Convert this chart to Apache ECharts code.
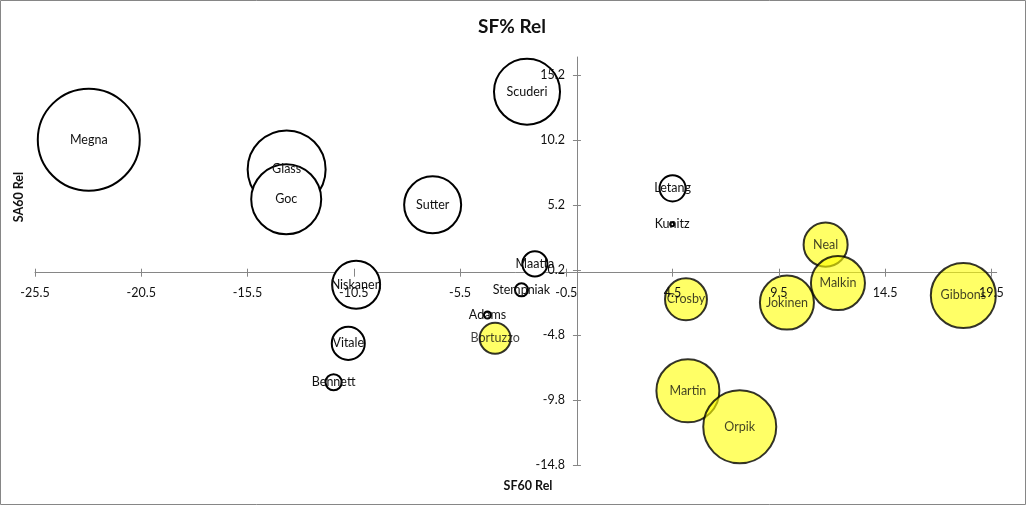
<!DOCTYPE html>
<html>
<head>
<meta charset="utf-8">
<script src="https://cdn.jsdelivr.net/npm/echarts@6/dist/echarts.min.js"></script>
<style>
html,body{margin:0;padding:0;background:#fff;}
#chart{width:1026px;height:505px;}
</style>
</head>
<body>
<div id="chart"></div>
<script>
// ---- data ----
const whitePlayers = ['Megna','Glass','Goc','Sutter','Scuderi','Niskanen','Vitale','Bennett','Adams','Stempniak','Maatta','Letang','Kunitz'];
const whiteSF60Rel = [-22.97,-13.66,-13.68,-6.79,-2.35,-10.39,-10.76,-11.45,-4.21,-2.61,-1.98,4.50,4.48];
const whiteSA60Rel = [10.24,7.95,5.65,5.22,13.93,-0.93,-5.44,-8.43,-3.26,-1.32,0.68,6.49,3.72];
const whiteBubble  = [104,60.8,49,32.5,43.6,23,10.9,2.6,0.5,1.7,6.3,6.8,0.16];

const yellowPlayers = ['Bortuzzo','Crosby','Martin','Orpik','Jokinen','Neal','Malkin','Gibbons'];
const yellowSF60Rel = [-3.85,5.13,5.22,7.66,9.88,11.70,12.28,18.18];
const yellowSA60Rel = [-5.05,-2.05,-9.09,-11.86,-2.30,2.16,-0.80,-1.75];
const yellowBubble  = [9.6,17.6,39.7,53.3,29.2,19.4,29.2,42.3];

const xTicks = [-25.5,-20.5,-15.5,-10.5,-5.5,-0.5,4.5,9.5,14.5,19.5];
const yTicks = [-14.8,-9.8,-4.8,0.2,5.2,10.2,15.2];

// ---- build ----
const FONT = 'Lato';
const X_MIN = -25.5, X_MAX = 19.75, Y_MIN = -14.8, Y_MAX = 16.6;
function rows(names, xs, ys, vs){
  return names.map((n,i)=>({name:n, value:[xs[i], ys[i], vs[i]]}));
}
const axisColor = '#868686';
const labelDef = {show:true, position:'inside', formatter:p=>p.name, color:'#111', fontSize:12.5, fontFamily:FONT};

// axis A: line only (under the bubbles); axis B: crossing ticks + labels (over the bubbles)
function xAxisLine(){
  return {type:'value', min:X_MIN, max:X_MAX, position:'bottom', z:0, offset:0,
    splitLine:{show:false},
    axisLine:{show:true, onZero:false, lineStyle:{color:axisColor, width:1}},
    axisTick:{show:false}, axisLabel:{show:false}};
}
function xAxisTicks(){
  return {type:'value', min:X_MIN, max:X_MAX, position:'bottom', z:10, offset:0,
    splitLine:{show:false},
    axisLine:{show:false, onZero:false},
    axisTick:{show:true, length:8, customValues:xTicks, lineStyle:{color:axisColor}},
    axisLabel:{show:true, customValues:xTicks, margin:18, color:'#111', fontSize:12.5, fontFamily:FONT,
      formatter:v=>String(v)}};
}
function yAxisLine(){
  return {type:'value', min:Y_MIN, max:Y_MAX, position:'left', z:0, offset:0,
    splitLine:{show:false},
    axisLine:{show:true, onZero:false, lineStyle:{color:axisColor, width:1}},
    axisTick:{show:false}, axisLabel:{show:false}};
}
function yAxisTicks(){
  return {type:'value', min:Y_MIN, max:Y_MAX, position:'left', z:10, offset:0,
    splitLine:{show:false},
    axisLine:{show:false, onZero:false},
    axisTick:{show:true, length:8, customValues:yTicks, lineStyle:{color:axisColor}},
    axisLabel:{show:true, customValues:yTicks, margin:16, color:'#111', fontSize:12.5, fontFamily:FONT,
      formatter:v=>String(v)}};
}

const option = {
  animation:false,
  backgroundColor:'#fff',
  grid:{left:35, right:29.3, top:57, bottom:40, outerBoundsMode:'none'},
  xAxis:[xAxisLine(), xAxisTicks()],
  yAxis:[yAxisLine(), yAxisTicks()],
  graphic:[
    {type:'rect', shape:{x:0.5,y:0.5,width:1025,height:504}, style:{fill:'none', stroke:'#868686', lineWidth:1}, silent:true, z:-10},
    {type:'text', x:512, y:27, style:{text:'SF% Rel', font:'bold 19px '+FONT, fill:'#111', align:'center', verticalAlign:'middle'}},
    {type:'text', x:528, y:486, style:{text:'SF60 Rel', font:'bold 12.5px '+FONT, fill:'#111', align:'center', verticalAlign:'middle'}},
    {type:'text', x:19, y:197, rotation:Math.PI/2, style:{text:'SA60 Rel', font:'bold 12.5px '+FONT, fill:'#111', align:'center', verticalAlign:'middle'}}
  ],
  series:[
    {type:'scatter', name:'white', xAxisIndex:0, yAxisIndex:0, z:2,
     data:rows(whitePlayers, whiteSF60Rel, whiteSA60Rel, whiteBubble),
     symbolSize:v=>Math.sqrt(v[2])*10,
     itemStyle:{color:'#ffffff', borderColor:'#000', borderWidth:2, opacity:1},
     label:labelDef, emphasis:{disabled:true}},
    {type:'scatter', name:'yellow', xAxisIndex:0, yAxisIndex:0, z:2,
     data:rows(yellowPlayers, yellowSF60Rel, yellowSA60Rel, yellowBubble),
     symbolSize:v=>Math.sqrt(v[2])*10,
     itemStyle:{color:'rgba(255,255,0,0.75)', borderColor:'#000', borderWidth:2},
     label:labelDef, emphasis:{disabled:true}}
  ]
};
const chart = echarts.init(document.getElementById('chart'));
chart.setOption(option);
// move the axes so they cross at the data origin (0,0), like the reference
const origin = chart.convertToPixel({gridIndex:0}, [0, 0]);
const corner = chart.convertToPixel({gridIndex:0}, [X_MIN, Y_MIN]);
const xOff = -(corner[1] - origin[1]);
const yOff = -(origin[0] - corner[0]);
chart.setOption({
  xAxis:[{offset:xOff}, {offset:xOff - 4}],
  yAxis:[{offset:yOff}, {offset:yOff - 4}]
});
</script>
</body>
</html>
